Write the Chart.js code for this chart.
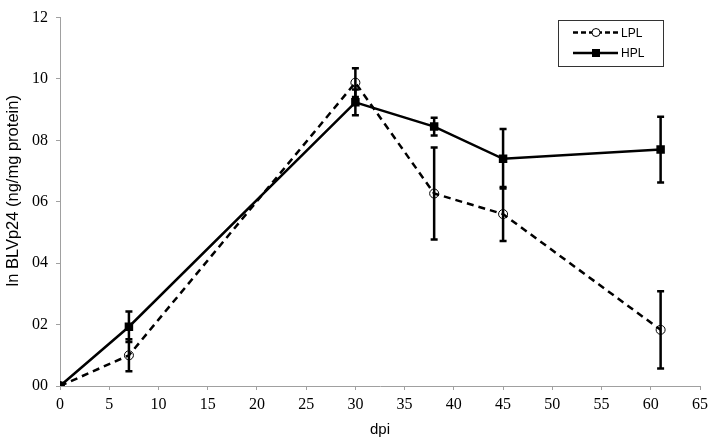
<!DOCTYPE html>
<html>
<head>
<meta charset="utf-8">
<script src="https://cdn.jsdelivr.net/npm/chart.js@4.4.0/dist/chart.umd.min.js"></script>
<style>
html,body{margin:0;padding:0;background:#fff;}
#wrap{width:709px;height:439px;position:relative;}
</style>
</head>
<body>
<div id="wrap"><canvas id="c" width="709" height="439"></canvas></div>
<script>
// ---- data ----
const dpi = [0, 7, 30, 38, 45, 61];
const lplValues = [0, 1.0, 9.88, 6.27, 5.6, 1.83];
const lplErrors = [0, 0.52, 0.47, 1.5, 0.88, 1.26];
const hplValues = [0, 1.93, 9.24, 8.45, 7.4, 7.7];
const hplErrors = [0, 0.5, 0.42, 0.29, 0.97, 1.07];
const yTickLabels = ['00', '02', '04', '06', '08', '10', '12'];
const seriesNames = ['LPL', 'HPL'];
const yTitle = 'ln BLVp24 (ng/mg protein)';

const toPts = (xs, ys) => xs.map((x, i) => ({x: x, y: ys[i]}));

const errorBars = {
  id: 'errorBars',
  afterDatasetsDraw(chart) {
    const ctx = chart.ctx;
    const xs = chart.scales.x, ys = chart.scales.y;
    chart.data.datasets.forEach(ds => {
      if (!ds.errors) return;
      ctx.save();
      ctx.strokeStyle = '#000';
      ctx.lineWidth = 2.5;
      ctx.setLineDash([]);
      ds.data.forEach((p, i) => {
        const e = ds.errors[i];
        if (!e) return;
        const px = xs.getPixelForValue(p.x);
        const top = ys.getPixelForValue(p.y + e);
        const bot = ys.getPixelForValue(p.y - e);
        ctx.beginPath();
        ctx.moveTo(px, top); ctx.lineTo(px, bot);
        ctx.moveTo(px - 3.5, top); ctx.lineTo(px + 3.5, top);
        ctx.moveTo(px - 3.5, bot); ctx.lineTo(px + 3.5, bot);
        ctx.stroke();
      });
      ctx.restore();
    });
  }
};

const yTitlePlugin = {
  id: 'yTitlePlugin',
  afterDraw(chart) {
    const ctx = chart.ctx;
    const a = chart.chartArea;
    ctx.save();
    ctx.translate(13, (a.top + a.bottom) / 2 - 11);
    ctx.rotate(-Math.PI / 2);
    ctx.font = '16.5px "Liberation Sans", Arial, sans-serif';
    ctx.fillStyle = '#000';
    ctx.textAlign = 'center';
    ctx.textBaseline = 'middle';
    ctx.fillText(yTitle, 0, 0);
    ctx.restore();
  }
};

const boxLegend = {
  id: 'boxLegend',
  afterDraw(chart) {
    const ctx = chart.ctx;
    const x0 = 558.5, y0 = 20.5, w = 105, h = 46;
    ctx.save();
    ctx.strokeStyle = '#333';
    ctx.lineWidth = 1;
    ctx.strokeRect(x0, y0, w, h);
    ctx.font = '12px "Liberation Sans", Arial, sans-serif';
    ctx.textBaseline = 'middle';
    ctx.fillStyle = '#000';
    chart.data.datasets.forEach((ds, i) => {
      const yy = 32.5 + i * 20.5;
      ctx.strokeStyle = '#000';
      ctx.lineWidth = 2.5;
      ctx.setLineDash(ds.borderDash ? [5, 3] : []);
      ctx.beginPath();
      ctx.moveTo(573, yy); ctx.lineTo(618, yy);
      ctx.stroke();
      ctx.setLineDash([]);
      if (ds.pointStyle === 'rect') {
        ctx.fillStyle = '#000';
        ctx.fillRect(592, yy - 4, 8, 8);
      } else {
        ctx.fillStyle = '#fff';
        ctx.lineWidth = 1;
        ctx.beginPath();
        ctx.arc(596, yy, 4, 0, Math.PI * 2);
        ctx.fill();
        ctx.stroke();
      }
      ctx.fillStyle = '#000';
      ctx.fillText(ds.label, 621, yy + 1);
    });
    ctx.restore();
  }
};

new Chart(document.getElementById('c'), {
  type: 'line',
  data: {
    datasets: [
      {
        label: seriesNames[0],
        data: toPts(dpi, lplValues),
        errors: lplErrors,
        borderColor: '#000',
        borderWidth: 2.5,
        borderDash: [7, 5],
        pointStyle: 'circle',
        pointRadius: 4.5,
        pointBorderWidth: 1,
        pointBorderColor: '#000',
        pointBackgroundColor: 'rgba(255,255,255,0)',
        tension: 0
      },
      {
        label: seriesNames[1],
        data: toPts(dpi, hplValues),
        errors: hplErrors,
        borderColor: '#000',
        borderWidth: 2.5,
        pointStyle: 'rect',
        pointRadius: 6,
        pointBorderWidth: 0,
        pointBackgroundColor: '#000',
        tension: 0
      }
    ]
  },
  options: {
    responsive: false,
    animation: false,
    layout: {padding: {top: 7, right: 0, left: 0, bottom: 0}},
    plugins: {legend: {display: false}, tooltip: {enabled: false}},
    scales: {
      x: {
        type: 'linear',
        min: 0, max: 65,
        ticks: {stepSize: 5, color: '#000', font: {family: '"Liberation Serif", "Times New Roman", serif', size: 16}, padding: 5},
        grid: {display: true, drawOnChartArea: false, drawTicks: true, tickLength: 4, color: '#a0a0a0'},
        border: {color: '#a0a0a0', width: 1},
        title: {display: true, text: 'dpi', color: '#000', font: {family: '"Liberation Sans", Arial, sans-serif', size: 15}, padding: {top: 8, bottom: 0}},
        afterFit(scale) { scale.height = 53; scale.paddingRight = 9; scale.paddingLeft = 0; }
      },
      y: {
        min: 0, max: 12,
        ticks: {stepSize: 2, color: '#000', font: {family: '"Liberation Serif", "Times New Roman", serif', size: 16}, padding: 8,
          callback: (v) => yTickLabels[Math.round(v / 2)]},
        grid: {display: true, drawOnChartArea: false, drawTicks: true, tickLength: 4, color: '#a0a0a0'},
        border: {color: '#a0a0a0', width: 1},
        title: {display: false},
        afterFit(scale) { scale.width = 60; }
      }
    }
  },
  plugins: [errorBars, boxLegend, yTitlePlugin]
});
</script>
</body>
</html>
